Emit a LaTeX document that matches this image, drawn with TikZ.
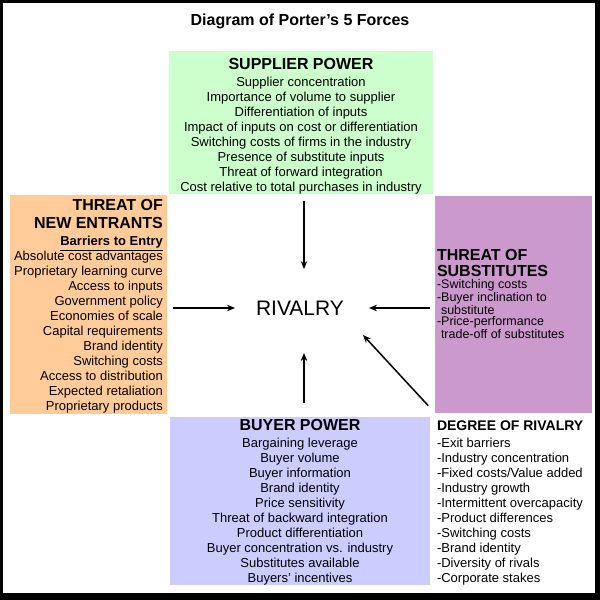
\documentclass[tikz,border=0pt]{standalone}
\usepackage{fontspec}
\setmainfont{Liberation Sans}
\usetikzlibrary{arrows.meta}

\definecolor{supgreen}{HTML}{CCFFCC}
\definecolor{entorange}{HTML}{FFCC99}
\definecolor{subpurple}{HTML}{CC99CC}
\definecolor{buyblue}{HTML}{CCCCFF}

\newcommand{\forcehead}{\fontsize{16}{17}\selectfont\bfseries}

\begin{document}
\begin{tikzpicture}[x=1pt, y=-1pt,
        box/.style = {rectangle, inner sep=0pt, outer sep=0pt, align=center, font=\fontsize{13}{15}\selectfont},
        supplierbox/.style = {box, fill=supgreen, minimum width=264pt, minimum height=141pt},
        entrantbox/.style = {box, fill=entorange, minimum width=157pt, minimum height=217pt, align=right},
        substbox/.style = {box, fill=subpurple, minimum width=157pt, minimum height=217pt},
        buyerbox/.style = {box, fill=buyblue, minimum width=260pt, minimum height=168pt},
        listtext/.style = {box, align=left, anchor=north west},
        arrow/.style = {line width=1.5pt, -{Stealth[length=8pt, width=6.5pt]}}
    ]
    % marco negro
    \fill[black] (0,0) rectangle (600,600);
    \fill[white] (3,3) rectangle (595,593);

    \node[font=\fontsize{16}{19}\selectfont\bfseries] (title) at (300,21) {Diagram of Porter's 5 Forces};

    % ================= FUERZAS =================
    \node[supplierbox] (supplier) at (301,122.5) {\rule{0pt}{18.5pt}{\forcehead SUPPLIER POWER}\\[2pt]
        Supplier concentration\\ Importance of volume to supplier\\ Differentiation of inputs\\
        Impact of inputs on cost or differentiation\\ Switching costs of firms in the industry\\
        Presence of substitute inputs\\ Threat of forward integration\\
        Cost relative to total purchases in industry};

    \node[entrantbox] (entrants) at (88.5,304.5) {\rule{0pt}{15.5pt}{\forcehead THREAT OF}\\[3pt]
        {\forcehead NEW ENTRANTS}\\[2pt]
        \textbf{\underline{Barriers to Entry}}\\
        Absolute cost advantages\\ Proprietary learning curve\\ Access to inputs\\
        Government policy\\ Economies of scale\\ Capital requirements\\ Brand identity\\
        Switching costs\\ Access to distribution\\ Expected retaliation\\ Proprietary products};

    \node[substbox] (substitutes) at (513.5,304.5) {};
    \node[listtext, font=\fontsize{12.5}{11.6}\selectfont] (substext) at (437,249) {{\forcehead THREAT OF}\\[4.4pt]
        {\forcehead SUBSTITUTES}\\[1.2pt]
        -Switching costs\\ -Buyer inclination to\\ \hspace{4pt}substitute\\
        -Price-performance\\ \hspace{4pt}trade-off of substitutes};

    \node[buyerbox] (buyer) at (300,501) {\rule{0pt}{13.5pt}{\forcehead BUYER POWER}\\[2pt]
        Bargaining leverage\\ Buyer volume\\ Buyer information\\ Brand identity\\
        Price sensitivity\\ Threat of backward integration\\ Product differentiation\\
        Buyer concentration vs. industry\\ Substitutes available\\ Buyers' incentives};

    \node[listtext] (degree) at (437,421) {{\fontsize{14}{16}\selectfont\bfseries DEGREE OF RIVALRY}\\[1.5pt]
        -Exit barriers\\ -Industry concentration\\ -Fixed costs/Value added\\ -Industry growth\\
        -Intermittent overcapacity\\ -Product differences\\ -Switching costs\\ -Brand identity\\
        -Diversity of rivals\\ -Corporate stakes};

    % ================= CENTRO =================
    \node[font=\fontsize{21}{25}\selectfont] (rivalry) at (300,308) {RIVALRY};

    \coordinate (tipN) at (304,269);
    \coordinate (tipW) at (235,308);
    \coordinate (tipE) at (369,308);
    \coordinate (tipS) at (304,353);
    \coordinate (tipSE) at (363,335);

    \draw[arrow, shorten <=7pt] (supplier.south -| tipN) -- (tipN);
    \draw[arrow, shorten <=6pt] (entrants.east |- tipW) -- (tipW);
    \draw[arrow, shorten <=5pt] (substitutes.west |- tipE) -- (tipE);
    \draw[arrow, shorten <=14pt] (buyer.north -| tipS) -- (tipS);
    \draw[arrow, shorten <=10pt] (substitutes.south west) -- (tipSE);

\end{tikzpicture}
\end{document}
